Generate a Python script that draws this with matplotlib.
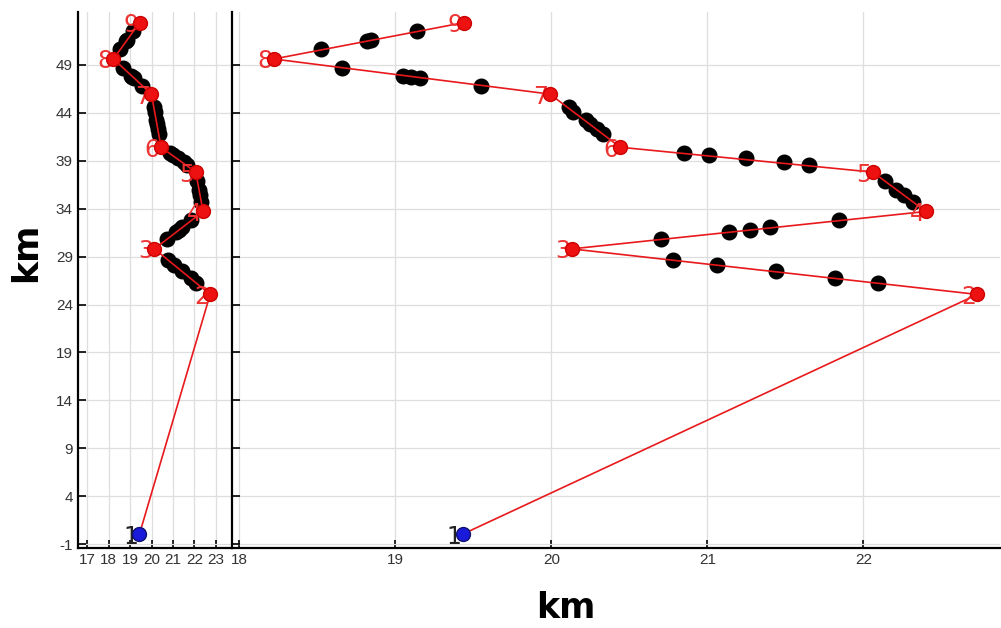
import matplotlib
matplotlib.use("Agg")
import matplotlib.pyplot as plt

plt.rcParams["axes.unicode_minus"] = False
plt.rcParams["font.family"] = ["Liberation Sans", "DejaVu Sans"]

# Waypoints (km)
way_labels = ["1", "2", "3", "4", "5", "6", "7", "8", "9"]
way_x = [19.43, 22.73, 20.13, 22.40, 22.06, 20.44, 19.99, 18.22, 19.44]
way_y = [0.05, 25.05, 29.8, 33.7, 37.8, 40.4, 45.94, 49.6, 53.4]

# Intermediate points (km)
dot_x = [22.09, 21.82, 21.44, 21.06, 20.78,
         20.70, 21.14, 21.27, 21.40, 21.84,
         22.32, 22.26, 22.21, 22.14,
         21.65, 21.49, 21.25, 21.01, 20.85,
         20.33, 20.29, 20.25, 20.22, 20.14, 20.11,
         19.55, 19.16, 19.10, 19.05, 18.66,
         18.52, 18.82, 18.84, 19.14]
dot_y = [26.29, 26.75, 27.48, 28.17, 28.63,
         30.85, 31.58, 31.79, 32.03, 32.76,
         34.67, 35.43, 35.94, 36.84,
         38.50, 38.81, 39.23, 39.58, 39.79,
         41.80, 42.28, 42.82, 43.22, 44.09, 44.56,
         46.80, 47.61, 47.72, 47.85, 48.66,
         50.64, 51.50, 51.58, 52.47]

y_ticks = [-1, 4, 9, 14, 19, 24, 29, 34, 39, 44, 49]
left_x_ticks = [17, 18, 19, 20, 21, 22, 23]
right_x_ticks = [18, 19, 20, 21, 22]

W, H = 1001, 628
fig = plt.figure(figsize=(W / 100, H / 100), dpi=100)

ax_l = fig.add_axes([77.7 / W, 1 - 548.3 / H, (232 - 77.7) / W, (548.3 - 12) / H])
ax_r = fig.add_axes([232 / W, 1 - 548.3 / H, (1000 - 232) / W, (548.3 - 12) / H])

tick_color = "#333333"
for ax, xl, xt in [(ax_l, (16.55, 23.75), left_x_ticks), (ax_r, (17.952, 22.875), right_x_ticks)]:
    ax.set_xlim(*xl)
    ax.set_ylim(-1.42, 54.5)
    ax.set_xticks(xt)
    ax.set_yticks(y_ticks)
    ax.grid(True, color="#dedede", linewidth=0.9)
    ax.set_axisbelow(True)
    for s in ["top", "right"]:
        ax.spines[s].set_visible(False)
    for s in ["left", "bottom"]:
        ax.spines[s].set_linewidth(1.6)
        ax.spines[s].set_color("black")
    ax.tick_params(direction="in", length=6, width=1.2, colors="black",
                   labelcolor=tick_color, labelsize=11)

    ax.plot(dot_x, dot_y, "o", color="black", markersize=10.5, zorder=3)
    ax.plot(way_x, way_y, "-", color="#e8191c", linewidth=1.2, zorder=4)
    for i, (lab, x, y) in enumerate(zip(way_labels, way_x, way_y)):
        ax.annotate(lab, (x, y), xytext=(-1.0, 0), textcoords="offset points",
                    ha="right", va="center_baseline", fontsize=17,
                    family=["DejaVu Sans"],
                    color=("#222222" if i == 0 else "#ee3333"), zorder=4.5)
    ax.plot(way_x[1:], way_y[1:], "o", color="#ee1111", markeredgecolor="#cc0000",
            markersize=10, zorder=5)
    ax.plot(way_x[:1], way_y[:1], "o", color="#1a1adb", markeredgecolor="#101070",
            markersize=10, zorder=5)

ax_r.tick_params(axis="y", labelleft=False)

fig.text(566 / W, 1 - 608 / H, "km", ha="center", va="center",
         fontsize=25, fontweight="bold", family=["DejaVu Sans"])
fig.text(26 / W, 1 - 252 / H, "km", ha="center", va="center", rotation=90,
         fontsize=25, fontweight="bold", family=["DejaVu Sans"])

fig.savefig("out.png", dpi=100)
